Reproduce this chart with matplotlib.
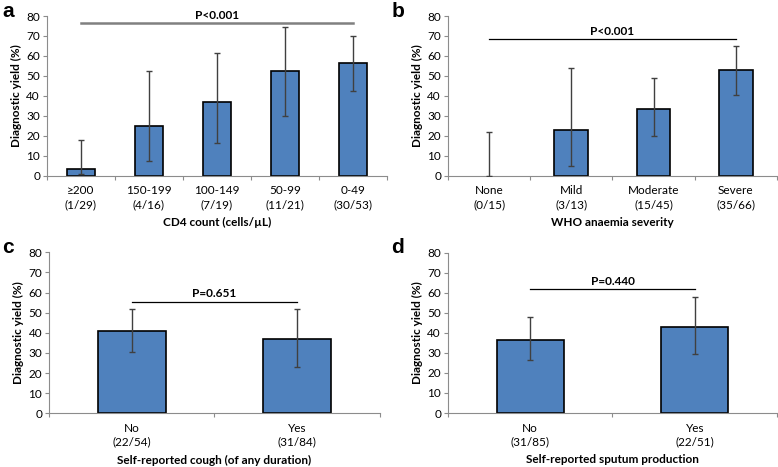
import numpy as np
import matplotlib
matplotlib.use("Agg")
import matplotlib.pyplot as plt

plt.rcParams['font.family'] = ['Lato', 'DejaVu Sans']

# panel a: CD4 count
cd4_cats = ["\u2265200", "150-199", "100-149", "50-99", "0-49"]
cd4_n = ["(1/29)", "(4/16)", "(7/19)", "(11/21)", "(30/53)"]
cd4_yield = [3.4, 25.0, 36.8, 52.4, 56.6]
cd4_lo = [0.9, 7.3, 16.3, 29.8, 42.3]
cd4_hi = [17.8, 52.4, 61.6, 74.3, 70.2]

# panel b: anaemia
anaemia_cats = ["None", "Mild", "Moderate", "Severe"]
anaemia_n = ["(0/15)", "(3/13)", "(15/45)", "(35/66)"]
anaemia_yield = [0.0, 23.1, 33.3, 53.0]
anaemia_lo = [0.0, 5.0, 20.0, 40.5]
anaemia_hi = [21.8, 53.8, 49.0, 65.2]

# panel c: cough
cough_cats = ["No", "Yes"]
cough_n = ["(22/54)", "(31/84)"]
cough_yield = [40.7, 36.9]
cough_lo = [30.5, 23.2]
cough_hi = [51.8, 51.6]

# panel d: sputum
sputum_cats = ["No", "Yes"]
sputum_n = ["(31/85)", "(22/51)"]
sputum_yield = [36.5, 43.1]
sputum_lo = [26.3, 29.3]
sputum_hi = [47.7, 57.8]

BAR = "#4F81BD"
AXC = "#8C8C8C"
FS = 8.5

def panel(ax, cats, ns, vals, lo, hi, xlabel, ptext, py, pcolor, plw):
    x = np.arange(len(cats))
    vals = np.array(vals)
    err = [vals - np.array(lo), np.array(hi) - vals]
    # zero-height bars show no outline (Excel style)
    lws = [1.2 if v > 0 else 0 for v in vals]
    ax.bar(x, vals, width=0.41, color=BAR, edgecolor="black", linewidth=lws, zorder=2)
    ax.errorbar(x, vals, yerr=err, fmt="none", ecolor="#404040", elinewidth=1,
                capsize=2.5, capthick=1, zorder=3)
    ax.set_xlim(-0.5, len(cats) - 0.5)
    ax.set_ylim(0, 80)
    ax.set_yticks(range(0, 81, 10))
    ax.set_xticks(x)
    ax.set_xticklabels([c + "\n" + n for c, n in zip(cats, ns)], fontsize=FS,
                       linespacing=1.3)
    ax.set_xticks(np.arange(len(cats) + 1) - 0.5, minor=True)
    ax.tick_params(axis="x", which="major", length=0, pad=7)
    ax.tick_params(axis="x", which="minor", length=3, color=AXC, width=0.8)
    ax.tick_params(axis="y", length=3, color=AXC, width=0.8, labelsize=FS, pad=2)
    for s in ["top", "right"]:
        ax.spines[s].set_visible(False)
    for s in ["left", "bottom"]:
        ax.spines[s].set_color(AXC)
        ax.spines[s].set_linewidth(0.8)
    ax.set_ylabel("Diagnostic yield (%)", fontsize=FS, fontweight="bold", labelpad=3)
    ax.set_xlabel(xlabel, fontsize=FS, fontweight="bold", labelpad=5)
    ax.plot([x[0], x[-1]], [py, py], color=pcolor, linewidth=plw, clip_on=False, zorder=1)
    ax.text((x[0] + x[-1]) / 2, py + 1.2, ptext, ha="center", va="bottom",
            fontsize=FS, fontweight="bold")

fig = plt.figure(figsize=(7.78, 4.67), dpi=100)
ax_a = fig.add_axes([0.0604, 0.6238, 0.4366, 0.3419])
ax_b = fig.add_axes([0.5758, 0.6238, 0.4229, 0.3419])
ax_c = fig.add_axes([0.0630, 0.1150, 0.4254, 0.3447])
ax_d = fig.add_axes([0.5758, 0.1156, 0.4229, 0.3433])

panel(ax_a, cd4_cats, cd4_n, cd4_yield, cd4_lo, cd4_hi,
      "CD4 count (cells/\u00b5L)", "P<0.001", 76.5, "#808080", 1.8)
panel(ax_b, anaemia_cats, anaemia_n, anaemia_yield, anaemia_lo, anaemia_hi,
      "WHO anaemia severity", "P<0.001", 68.3, "black", 0.9)
panel(ax_c, cough_cats, cough_n, cough_yield, cough_lo, cough_hi,
      "Self-reported cough (of any duration)", "P=0.651", 55.5, "black", 0.9)
panel(ax_d, sputum_cats, sputum_n, sputum_yield, sputum_lo, sputum_hi,
      "Self-reported sputum production", "P=0.440", 61.9, "black", 0.9)

for lab, (px, py) in zip("abcd", [(0.003, 0.995), (0.503, 0.995), (0.003, 0.49), (0.503, 0.49)]):
    fig.text(px, py, lab, fontsize=15, fontweight="bold", ha="left", va="top",
             family=["Liberation Sans", "DejaVu Sans"])

fig.savefig("out.png", dpi=100)
